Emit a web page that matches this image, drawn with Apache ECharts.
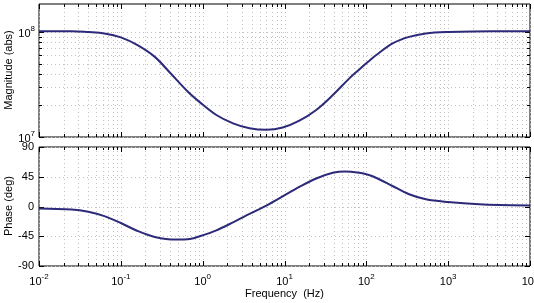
<!DOCTYPE html>
<html>
<head>
<meta charset="utf-8">
<script src="https://cdn.jsdelivr.net/npm/echarts@6/dist/echarts.min.js"></script>
<style>
  html, body { margin: 0; padding: 0; background: #fff; }
  #chart { width: 534px; height: 303px; }
</style>
</head>
<body>
<div id="chart"></div>
<script>
// frequency response
const magFreq = [0.01, 0.025, 0.04, 0.063, 0.1, 0.16, 0.26, 0.41, 0.66, 0.92, 1.47, 2.35, 3.74, 6.0, 9.5, 15.2, 24.4, 39, 62, 82, 105, 131, 209, 333, 534, 1000, 3500, 10000];
const magVal = [1.02e8, 1.02e8, 1.0e8, 9.7e7, 8.9e7, 7.5e7, 5.8e7, 4.0e7, 2.7e7, 2.15e7, 1.62e7, 1.35e7, 1.21e7, 1.17e7, 1.23e7, 1.43e7, 1.81e7, 2.51e7, 3.62e7, 4.4e7, 5.2e7, 6.0e7, 7.8e7, 9.0e7, 9.7e7, 1.0e8, 1.02e8, 1.02e8];
const phaseFreq = [0.01, 0.025, 0.04, 0.063, 0.1, 0.16, 0.26, 0.47, 0.7, 0.92, 1.47, 2.35, 3.74, 6.0, 9.5, 15.2, 24.4, 39, 55, 82, 105, 131, 209, 333, 534, 1000, 2150, 4200, 10000];
const phaseVal = [-3, -4.5, -8, -14.5, -25, -37, -46, -50, -49, -45, -36, -24, -11.3, 1.5, 15.3, 29.7, 42.4, 51, 53, 51, 48, 43.5, 31, 18.5, 11, 6.8, 3.7, 2.1, 1.6];

const freqTicks = [0.01, 0.1, 1, 10, 100, 1000, 10000];
const magTicks = [1e7, 1e8];
const phaseTicks = [-90, -45, 0, 45, 90];

// minor decades 2..9
const minorFreq = [];
freqTicks.slice(0, -1).forEach(d => { for (let k = 2; k <= 9; k++) minorFreq.push(d * k); });
const minorMag = [2e7, 3e7, 4e7, 5e7, 6e7, 7e7, 8e7, 9e7];

const FONT = 'Liberation Sans';
const LINE_COLOR = '#2d2a79';

const chart = echarts.init(document.getElementById('chart'));

// dotted grid line + inside ticks on both edges
function gridLines(xIdx, yIdx, vals, vertical, ref, tickLen) {
    return {
        type: 'custom',
        xAxisIndex: xIdx,
        yAxisIndex: yIdx,
        silent: true,
        z: 1,
        data: vals.map(v => vertical ? [v, ref] : [ref, v]),
        renderItem(params, api) {
            const cs = params.coordSys;
            const p = api.coord([api.value(0), api.value(1)]);
            let shapes;
            if (vertical) {
                const x = Math.round(p[0]) + 0.5;
                const y0 = cs.y, y1 = cs.y + cs.height;
                shapes = [[x, y0, x, y1, 1], [x, y1, x, y1 - tickLen, 0], [x, y0, x, y0 + tickLen, 0]];
            } else {
                const y = Math.round(p[1]) + 0.5;
                const x0 = cs.x, x1 = cs.x + cs.width;
                shapes = [[x0, y, x1, y, 1], [x0, y, x0 + tickLen, y, 0], [x1, y, x1 - tickLen, y, 0]];
            }
            return {
                type: 'group',
                children: shapes.map(s => ({
                    type: 'line',
                    shape: { x1: s[0], y1: s[1], x2: s[2], y2: s[3] },
                    style: s[4]
                        ? { stroke: '#c2c2c2', lineWidth: 1, lineDash: [1, 3] }
                        : { stroke: '#000', lineWidth: 1 }
                }))
            };
        }
    };
}

const supLabel = {
    fontFamily: FONT,
    color: '#000',
    formatter: v => '{b|10}{s|' + Math.round(Math.log10(v)) + '}',
    rich: {
        b: { fontSize: 11, fontFamily: FONT, color: '#000', verticalAlign: 'bottom', lineHeight: 14 },
        s: { fontSize: 8, fontFamily: FONT, color: '#000', verticalAlign: 'top', lineHeight: 8, padding: [0, 0, 6, 0] }
    }
};

// rotated y titles
function yTitle(text, cy) {
    return {
        type: 'text', x: 9, y: cy, rotation: Math.PI / 2,
        style: { text, fontFamily: FONT, fontSize: 11, fill: '#000', align: 'center', verticalAlign: 'middle' }
    };
}

const option = {
    animation: false,
    backgroundColor: '#fff',
    graphic: [
        yTitle('Magnitude (abs)', 70),
        yTitle('Phase (deg)', 206)
    ],
    grid: [
        { left: 39, right: 4, top: 4, height: 133, show: true, borderColor: '#000', borderWidth: 1, backgroundColor: 'transparent', outerBoundsMode: 'none' },
        { left: 39, right: 4, top: 147, height: 119, show: true, borderColor: '#000', borderWidth: 1, backgroundColor: 'transparent', outerBoundsMode: 'none' }
    ],
    xAxis: [
        {
            type: 'log', gridIndex: 0, min: 0.01, max: 10000, logBase: 10,
            axisLine: { show: false }, axisTick: { show: false }, splitLine: { show: false },
            axisLabel: { show: false }
        },
        {
            type: 'log', gridIndex: 1, min: 0.01, max: 10000, logBase: 10,
            axisLine: { show: false }, axisTick: { show: false }, splitLine: { show: false },
            axisLabel: Object.assign({ customValues: freqTicks, margin: 7, alignMinLabel: 'center', alignMaxLabel: 'center', hideOverlap: false }, supLabel),
            name: 'Frequency  (Hz)', nameLocation: 'middle', nameGap: 22,
            nameTextStyle: { fontFamily: FONT, fontSize: 11, color: '#000' }
        }
    ],
    yAxis: [
        {
            type: 'log', gridIndex: 0, min: 1e7, max: 1.85e8, logBase: 10,
            axisLine: { show: false }, axisTick: { show: false }, splitLine: { show: false },
            axisLabel: Object.assign({ customValues: magTicks, margin: 4 }, supLabel)
        },
        {
            type: 'value', gridIndex: 1, min: -90, max: 90, interval: 45,
            axisLine: { show: false }, axisTick: { show: false }, splitLine: { show: false },
            axisLabel: { customValues: phaseTicks, margin: 5, fontFamily: FONT, fontSize: 11, color: '#000' }
        }
    ],
    series: [
        gridLines(0, 0, freqTicks, true, 1e8, 5),
        gridLines(0, 0, minorFreq, true, 1e8, 3),
        gridLines(0, 0, magTicks, false, 1, 5),
        gridLines(0, 0, minorMag, false, 1, 3),
        gridLines(1, 1, freqTicks, true, 0, 5),
        gridLines(1, 1, minorFreq, true, 0, 3),
        gridLines(1, 1, phaseTicks, false, 1, 5),
        {
            type: 'line', xAxisIndex: 0, yAxisIndex: 0, z: 5,
            data: magFreq.map((f, i) => [f, magVal[i]]),
            smooth: 0.35, showSymbol: false,
            lineStyle: { color: LINE_COLOR, width: 2 }
        },
        {
            type: 'line', xAxisIndex: 1, yAxisIndex: 1, z: 5,
            data: phaseFreq.map((f, i) => [f, phaseVal[i]]),
            smooth: 0.35, showSymbol: false,
            lineStyle: { color: LINE_COLOR, width: 2 }
        }
    ]
};

chart.setOption(option);
</script>
</body>
</html>
